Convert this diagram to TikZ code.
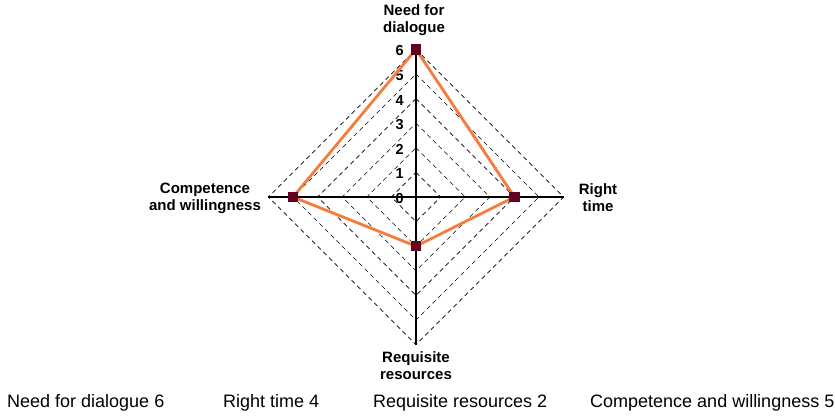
\documentclass[tikz,border=0pt]{standalone}
\usepackage{fontspec}
\setmainfont{Liberation Sans}
\usepackage{tikz}
\definecolor{linecol}{HTML}{F47C3C}
\definecolor{markcol}{HTML}{660020}
\newcommand{\ustep}{24.6}
\tikzset{
grid/.style={black, line width=0.6pt, dash pattern=on 4.5pt off 3.5pt},
axis/.style={black, line width=1.4pt},
series/.style={linecol, line width=2.8pt, line join=round},
datapt/.style={rectangle, fill=markcol, minimum size=10.5pt, inner sep=0pt},
catlabel/.style={font=\bfseries\fontsize{15}{17}\selectfont, align=center, inner sep=0pt},
ticklabel/.style={font=\bfseries\fontsize{14.5}{16}\selectfont, anchor=east, inner sep=0pt},
legend/.style={font=\fontsize{18}{20}\selectfont, anchor=west, inner sep=0pt}
}

\begin{document}
\begin{tikzpicture}[x=1pt,y=-1pt]
\useasboundingbox (0,0) rectangle (835,416);
\begin{scope}[shift={(416,197)}]
% the dashed rings
\foreach \k in {1,...,6}
{
  \pgfmathsetmacro{\r}{\k*\ustep}
  \draw[grid] (0,-\r) -- (\r,0) -- (0,\r) -- (-\r,0) -- cycle;
}
% the axes
\coordinate (o) at (0,0);
\coordinate (top) at (0,-6*\ustep);
\coordinate (right) at (6*\ustep,0);
\coordinate (bottom) at (0,6*\ustep);
\coordinate (left) at (-6*\ustep,0);
\draw[axis] (top) -- (bottom);
\draw[axis] (left) -- (right);
\foreach \k in {0,...,6}
{
  \node[ticklabel] (tick\k) at (-12,-\k*\ustep+1.5) {\k};
}
% the data
\node[datapt] (need) at (0,-6*\ustep) {};
\node[datapt] (time) at (4*\ustep,0) {};
\node[datapt] (res) at (0,2*\ustep) {};
\node[datapt] (comp) at (-5*\ustep,0) {};
\draw[series] (need.center) -- (time.center) -- (res.center) -- (comp.center) -- cycle;
\foreach \p in {need,time,res,comp}
  \node[datapt] at (\p) {};
\end{scope}
% the category labels
\node[catlabel] (needlab) at (414,20) {Need for\\dialogue};
\node[catlabel] (timelab) at (598,198) {Right\\time};
\node[catlabel] (reslab) at (416,366) {Requisite\\resources};
\node[catlabel] (complab) at (205,198) {Competence\\and willingness};
% the legend
\node[legend] (leg1) at (7,403) {Need for dialogue 6};
\node[legend] (leg2) at (223,403) {Right time 4};
\node[legend] (leg3) at (373,403) {Requisite resources 2};
\node[legend] (leg4) at (590,403) {Competence and willingness 5};
\end{tikzpicture}
\end{document}
